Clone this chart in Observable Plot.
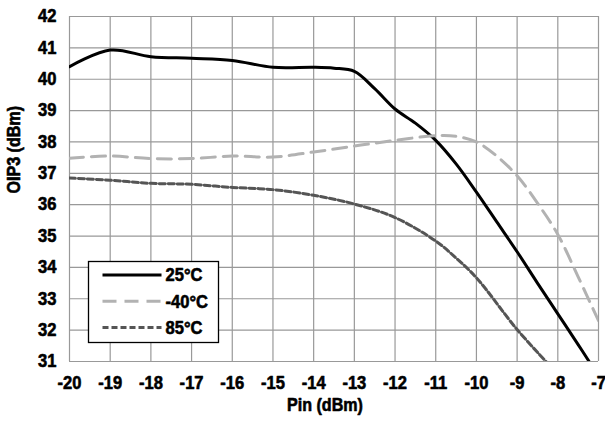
<!DOCTYPE html>
<html>
<head>
<meta charset="utf-8">
<script src="https://cdn.jsdelivr.net/npm/d3@7"></script>
<script src="https://cdn.jsdelivr.net/npm/@observablehq/plot@0.6"></script>
<style>
  html, body { margin: 0; padding: 0; background: #fff; }
  #chart { width: 605px; height: 425px; }
  .heavy { stroke: #000; stroke-width: 0.6px; stroke-linejoin: round; }
</style>
</head>
<body>
<div id="chart"></div>
<script>
// OIP3 versus input power at three temperatures
const xTicks = [-20, -19, -18, -17, -16, -15, -14, -13, -12, -11, -10, -9, -8, -7];
const yTicks = [31, 32, 33, 34, 35, 36, 37, 38, 39, 40, 41, 42];

const pin25 = [-20, -19, -18, -17, -16, -15, -14, -13.5, -13, -12.5, -12, -11.5, -11, -10.5, -10, -9.5, -9, -8.5, -8, -7.5, -7.23];
const oip25 = [40.4, 40.93, 40.72, 40.67, 40.6, 40.38, 40.38, 40.35, 40.25, 39.7, 39.05, 38.6, 38.05, 37.3, 36.4, 35.45, 34.5, 33.5, 32.52, 31.54, 31.0];

const pinM40 = [-20, -19, -18, -17, -16, -15, -14, -13, -12, -11, -10.5, -10, -9.5, -9, -8.5, -8, -7.5, -7];
const oipM40 = [37.48, 37.55, 37.47, 37.47, 37.55, 37.52, 37.68, 37.87, 38.05, 38.2, 38.18, 38.0, 37.55, 36.92, 36.05, 35.05, 33.7, 32.3];

const pin85 = [-20, -19, -18, -17, -16, -15, -14, -13, -12, -11, -10.5, -10, -9, -8.29];
const oip85 = [36.85, 36.78, 36.68, 36.65, 36.55, 36.48, 36.3, 36.02, 35.59, 34.84, 34.3, 33.67, 32.02, 31.0];

const seriesNames = ["25°C", "-40°C", "85°C"];
const seriesColors = ["#000000", "#b2b2b2", "#555555"];
const seriesDash = [null, "14 8", "6 3"];

const toRows = (xs, ys, name) => xs.map((x, i) => ({pin: x, oip: ys[i], series: name}));
const rows = [
  toRows(pin25, oip25, seriesNames[0]),
  toRows(pinM40, oipM40, seriesNames[1]),
  toRows(pin85, oip85, seriesNames[2])
];

const font = "'Liberation Sans', Arial, sans-serif";

const chart = Plot.plot({
  width: 605,
  height: 425,
  marginLeft: 69,
  marginRight: 7,
  marginTop: 16,
  marginBottom: 64,
  style: {fontFamily: font, fontWeight: "bold", fontSize: "18px", color: "#000", background: "#fff"},
  x: {domain: [-20, -7], label: null},
  y: {domain: [31, 42], label: null},
  marks: [
    Plot.gridX(xTicks, {stroke: "#999", strokeOpacity: 1, strokeWidth: 1.2}),
    Plot.gridY(yTicks, {stroke: "#999", strokeOpacity: 1, strokeWidth: 1.2}),
    Plot.axisX({ticks: xTicks, tickSize: 0, tickPadding: 15, tickFormat: d => String(d), fontSize: 18, className: "narrow-tick"}),
    Plot.axisY({ticks: yTicks, tickSize: 0, tickPadding: 13, fontSize: 18, className: "narrow-tick"}),
    Plot.text(["Pin (dBm)"], {frameAnchor: "bottom", dx: -9, dy: 49, fontSize: 17.5, fontWeight: "bold", className: "narrow-title"}),
    Plot.text(["OIP3 (dBm)"], {frameAnchor: "left", dx: -55, dy: 4.5, rotate: -90, fontSize: 17.5, fontWeight: "bold", className: "narrow-title"}),
    ...rows.map((r, i) => Plot.line(r, {
      x: "pin", y: "oip",
      stroke: seriesColors[i],
      strokeWidth: 3,
      strokeDasharray: seriesDash[i],
      curve: "catmull-rom",
      clip: true
    }))
  ]
});

document.getElementById("chart").appendChild(chart);

const svg = d3.select(chart);

// Condense the label glyphs horizontally and give them a heavier weight
function condense(sel, s) {
  sel.each(function () {
    const t = this.getAttribute("transform") || "";
    const x = this.getAttribute("x");
    if (x != null && x !== "") {
      this.setAttribute("x", +x / s);
    }
    this.setAttribute("transform", (t ? t + " " : "") + `scale(${s},1)`);
    this.classList.add("heavy");
  });
}
condense(svg.selectAll("g.narrow-tick text"), 0.92);
condense(svg.selectAll("g.narrow-title text"), 0.92);

// Legend box in the lower-left of the plot area
const lg = svg.append("g").attr("transform", "translate(88.5,261.5)");
lg.append("rect").attr("width", 130).attr("height", 81)
  .attr("fill", "#fff").attr("stroke", "#000").attr("stroke-width", 1.3);
seriesNames.forEach((name, i) => {
  const y = 13.5 + i * 26.3;
  lg.append("line").attr("x1", 14).attr("x2", 73).attr("y1", y).attr("y2", y)
    .attr("stroke", seriesColors[i]).attr("stroke-width", 3)
    .attr("stroke-dasharray", seriesDash[i]);
  lg.append("text").attr("class", "heavy")
    .attr("transform", `translate(77,${y}) scale(0.92,1)`).attr("dy", "0.35em")
    .attr("text-anchor", "start")
    .attr("font-family", font).attr("font-weight", "bold").attr("font-size", 18)
    .attr("fill", "#000").text(name);
});
</script>
</body>
</html>
